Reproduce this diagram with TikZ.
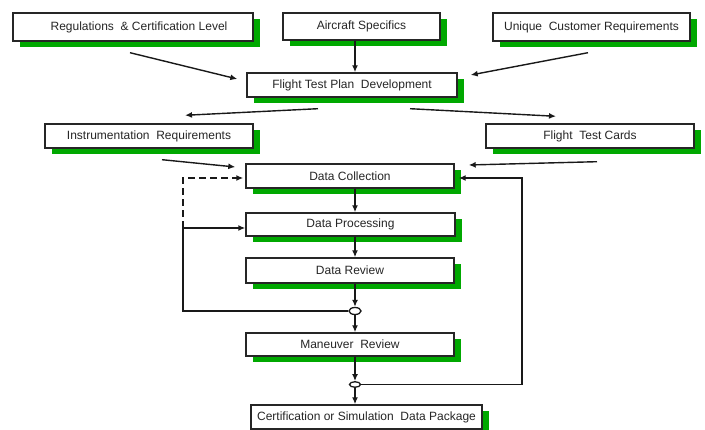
\documentclass[tikz,border=0pt]{standalone}
\usepackage{fontspec}
\setmainfont{Liberation Sans}
\usetikzlibrary{arrows.meta,shadows,shapes.geometric}
\definecolor{shadowgreen}{RGB}{0,168,0}

\begin{document}
\begin{tikzpicture}[x=1pt,y=-1pt,
    box/.style={rectangle,draw=black!85,line width=1.4pt,fill=white,inner sep=0pt,
      drop shadow={shadow xshift=6.5pt,shadow yshift=-6.5pt,draw=none,fill=shadowgreen,opacity=1},
      font=\fontsize{12}{14}\selectfont,text=black!85},
    arr/.style={line width=1.4pt,draw=black!90,-{Latex[length=7pt,width=6pt]}},
    ln/.style={line width=1.4pt,draw=black!90},
    jn/.style={ellipse,draw=black!90,line width=1.3pt,fill=white,inner sep=0pt}]
    \useasboundingbox (0,0) rectangle (705,430);

    % inputs
    \node[box,minimum width=240pt,minimum height=28pt] (reg) at (133,27) {\hspace{12pt}Regulations \ \& Certification Level};
    \node[box,minimum width=157pt,minimum height=27pt] (acs) at (361.5,26.5) {Aircraft Specifics};
    \node[box,minimum width=197pt,minimum height=28pt] (ucr) at (591.5,27) {Unique \ Customer Requirements};
    \node[box,minimum width=210pt,minimum height=24pt] (ftpd) at (352,85) {Flight Test Plan \ Development};
    \node[box,minimum width=208pt,minimum height=24pt] (ir) at (149,136) {Instrumentation \ Requirements};
    \node[box,minimum width=208pt,minimum height=24pt] (ftc) at (590,136) {Flight \ Test Cards};

    % main column
    \node[box,minimum width=208pt,minimum height=24pt] (dc) at (350,176) {Data Collection};
    \node[box,minimum width=209pt,minimum height=23pt] (dp) at (350.5,224.5) {Data Processing};
    \node[box,minimum width=208pt,minimum height=25pt] (dr) at (350,270.5) {Data Review};
    \node[jn,minimum width=12pt,minimum height=7pt] (j1) at (355,311) {};
    \node[box,minimum width=208pt,minimum height=23pt] (mr) at (350,344.5) {Maneuver \ Review};
    \node[jn,minimum width=11pt,minimum height=5.5pt] (j2) at (355,384.5) {};
    \node[box,minimum width=231pt,minimum height=24pt] (cdp) at (366.5,417) {Certification or Simulation \ Data Package};

    \coordinate (lb) at (183,228);
    \coordinate (dcl) at ([shift={(-2,2)}]dc.west);
    \coordinate (rb) at (522,384.5);
    \coordinate (dcr) at ([shift={(4,2)}]dc.east);

    \draw[arr] ([shift={(-3,11)}]reg.south) -- ([shift={(-9,-6)}]ftpd.west);
    \draw[arr] (acs.south -| j1) -- (ftpd.north -| j1);
    \draw[arr] ([shift={(-3.5,11)}]ucr.south) -- ([shift={(13,-10)}]ftpd.east);
    \draw[arr] ([shift={(-34,11)}]ftpd.south) -- ([shift={(36,-8)}]ir.north);
    \draw[arr] ([shift={(58,11)}]ftpd.south) -- ([shift={(-34,-7)}]ftc.north);
    \draw[arr] ([shift={(13,11)}]ir.south) -- ([shift={(-10,-9)}]dc.west);
    \draw[arr] ([shift={(7,13)}]ftc.south) -- ([shift={(14,-11)}]dc.east);

    \draw[arr] (dc.south -| j1) -- (dp.north -| j1);
    \draw[arr] (dp.south -| j1) -- (dr.north -| j1);
    \draw[arr] (dr.south -| j1) -- (j1.north);
    \draw[arr] (j1.south) -- (mr.north -| j1);
    \draw[arr] (mr.south -| j2) -- (j2.north);
    \draw[arr] (j2.south) -- (cdp.north -| j2);

    % loops back
    \draw[ln] (j1.west) -| (lb);
    \draw[arr] (lb) -- ([shift={(0,3.5)}]dp.west);
    \draw[arr,dash pattern=on 7pt off 4pt] (lb) |- (dcl);
    \draw[arr] (j2.east) -- (rb) |- (dcr);
\end{tikzpicture}
\end{document}
